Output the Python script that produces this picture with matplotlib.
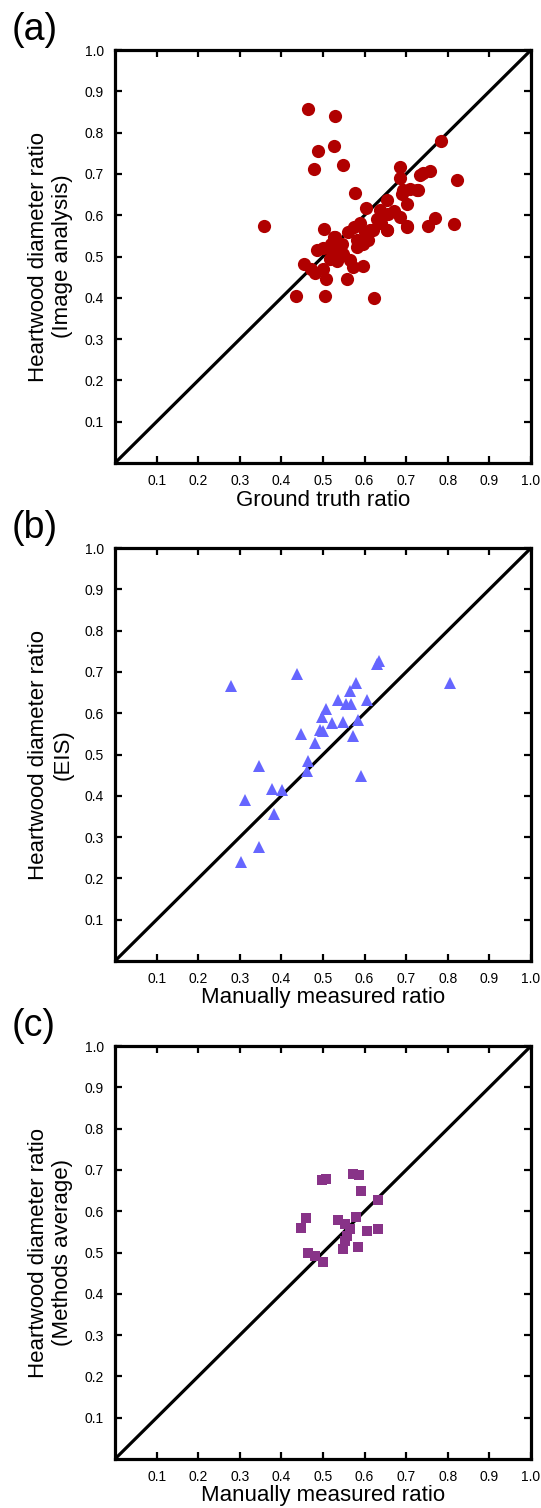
import matplotlib
matplotlib.use('Agg')
import matplotlib.pyplot as plt

plt.rcParams['font.family'] = ['Liberation Sans', 'DejaVu Sans']

# panel (a): ground truth vs image analysis
gt_x = [0.465, 0.529, 0.489, 0.526, 0.478, 0.549, 0.577, 0.358, 0.685, 0.603,
        0.503, 0.526, 0.575, 0.486, 0.454, 0.481, 0.507, 0.557, 0.435, 0.505,
        0.623, 0.597, 0.565, 0.533, 0.581, 0.653, 0.701, 0.653, 0.693, 0.725,
        0.741, 0.613, 0.597, 0.549, 0.525, 0.784, 0.733, 0.757, 0.821, 0.685,
        0.729, 0.709, 0.689, 0.701, 0.637, 0.657, 0.685, 0.701, 0.655, 0.753,
        0.769, 0.814, 0.621, 0.609, 0.529, 0.581, 0.573, 0.517, 0.500, 0.520,
        0.540, 0.560, 0.590, 0.630, 0.670, 0.500, 0.470, 0.545, 0.600, 0.640]
gt_y = [0.858, 0.840, 0.755, 0.767, 0.713, 0.721, 0.654, 0.574, 0.717, 0.617,
        0.567, 0.547, 0.571, 0.515, 0.481, 0.460, 0.446, 0.446, 0.405, 0.405,
        0.399, 0.477, 0.492, 0.490, 0.539, 0.563, 0.571, 0.636, 0.660, 0.660,
        0.701, 0.563, 0.531, 0.507, 0.507, 0.779, 0.697, 0.707, 0.686, 0.691,
        0.660, 0.664, 0.652, 0.628, 0.612, 0.604, 0.595, 0.575, 0.563, 0.575,
        0.594, 0.579, 0.565, 0.539, 0.547, 0.523, 0.474, 0.494, 0.520, 0.530,
        0.520, 0.560, 0.580, 0.590, 0.610, 0.470, 0.470, 0.530, 0.560, 0.580]

# panel (b): manual vs EIS
eis_x = [0.635, 0.630, 0.438, 0.579, 0.565, 0.537, 0.555, 0.567, 0.605, 0.507,
         0.497, 0.521, 0.547, 0.585, 0.493, 0.501, 0.573, 0.446, 0.481, 0.463,
         0.461, 0.591, 0.346, 0.378, 0.401, 0.312, 0.383, 0.347, 0.304, 0.805,
         0.278]
eis_y = [0.726, 0.720, 0.694, 0.674, 0.653, 0.633, 0.623, 0.623, 0.631, 0.611,
         0.591, 0.576, 0.578, 0.583, 0.560, 0.558, 0.546, 0.550, 0.528, 0.485,
         0.459, 0.447, 0.473, 0.417, 0.413, 0.390, 0.356, 0.275, 0.240, 0.672,
         0.665]

# panel (c): manual vs methods average
avg_x = [0.497, 0.507, 0.573, 0.587, 0.591, 0.633, 0.459, 0.446, 0.537, 0.579,
         0.553, 0.565, 0.605, 0.633, 0.557, 0.553, 0.547, 0.583, 0.465, 0.481,
         0.501]
avg_y = [0.676, 0.678, 0.691, 0.688, 0.650, 0.626, 0.584, 0.560, 0.578, 0.585,
         0.568, 0.558, 0.552, 0.558, 0.539, 0.527, 0.509, 0.514, 0.499, 0.491,
         0.478]

ticks = [0.1, 0.2, 0.3, 0.4, 0.5, 0.6, 0.7, 0.8, 0.9, 1.0]
tick_labels = ['0.1', '0.2', '0.3', '0.4', '0.5', '0.6', '0.7', '0.8', '0.9', '1.0']

panels = [
    ('(a)', gt_x, gt_y, 'o', '#b00000', 9.5, 'Ground truth ratio',
     'Heartwood diameter ratio\n(Image analysis)'),
    ('(b)', eis_x, eis_y, '^', '#6666ff', 8.5, 'Manually measured ratio',
     'Heartwood diameter ratio\n(EIS)'),
    ('(c)', avg_x, avg_y, 's', '#883388', 7.0, 'Manually measured ratio',
     'Heartwood diameter ratio\n(Methods average)'),
]

fig = plt.figure(figsize=(5.41, 15.08), dpi=100)
W, H = 541.0, 1508.0
tops = [50, 548, 1046]

for (tag, xs, ys, mk, col, ms, xlab, ylab), top in zip(panels, tops):
    ax = fig.add_axes([115 / W, 1 - (top + 413) / H, 416 / W, 413 / H])
    ax.plot([0, 1], [0, 1], color='black', lw=2.3, zorder=1)
    ax.plot(xs, ys, linestyle='none', marker=mk, color=col, markersize=ms,
            markeredgewidth=0, zorder=2)
    ax.set_xlim(0, 1)
    ax.set_ylim(0, 1)
    ax.set_xticks(ticks)
    ax.set_xticklabels(tick_labels)
    ax.set_yticks(ticks)
    ax.set_yticklabels(tick_labels)
    ax.tick_params(direction='in', length=5, width=1.6, labelsize=10, pad=8,
                   top=True, right=True)
    for s in ax.spines.values():
        s.set_linewidth(2.3)
    ax.set_xlabel(xlab, fontsize=16, labelpad=1)
    ax.set_ylabel(ylab, fontsize=16, labelpad=8, linespacing=1.2)
    fig.text(12 / W, 1 - (top - 38) / H, tag, fontsize=27, va='top', ha='left')

fig.savefig('out.png', dpi=100)
